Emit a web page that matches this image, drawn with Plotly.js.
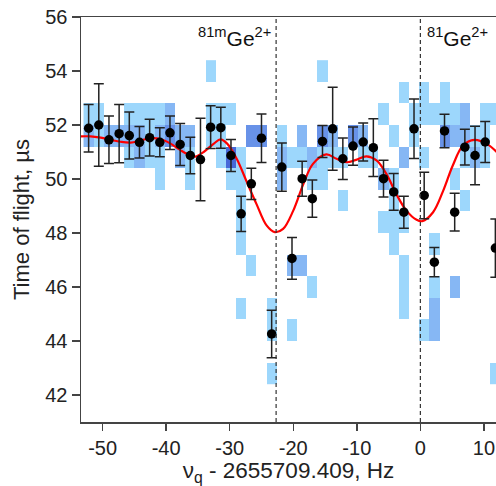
<!DOCTYPE html>
<html>
<head>
<meta charset="utf-8">
<script src="https://cdn.plot.ly/plotly-3.0.1.min.js"></script>
<style>
html,body{margin:0;padding:0;background:#fff;}
#chart{width:496px;height:486px;}
</style>
</head>
<body>
<div id="chart"></div>
<script>
// ---- data ----
const freq = [-52.2, -50.6, -49.0, -47.4, -45.8, -44.2, -42.6, -41.0, -39.4, -37.8,
              -36.2, -34.6, -33.0, -31.4, -29.8, -28.2, -26.6, -25.0, -23.4, -21.8,
              -20.2, -18.6, -17.0, -15.4, -13.8, -12.2, -10.6, -9.0, -7.4, -5.8,
              -4.2, -2.6, -1.0, 0.6, 2.2, 3.8, 5.4, 7.0, 8.6, 10.2, 11.8];
const tof = [51.88, 52.00, 51.45, 51.68, 51.61, 51.36, 51.53, 51.36, 51.71, 51.28,
             50.87, 50.72, 51.92, 51.90, 50.87, 48.71, 49.82, 51.51, 44.26, 50.44,
             47.06, 50.01, 49.27, 51.39, 51.86, 50.75, 51.22, 51.37, 51.16, 50.01,
             49.52, 48.77, 51.86, 49.39, 46.92, 51.78, 48.77, 51.18, 50.87, 51.37, 47.44];
const tofErr = [0.88, 1.53, 0.88, 1.08, 0.87, 0.58, 0.68, 0.54, 0.62, 0.78,
                0.68, 1.53, 0.79, 0.76, 0.59, 0.65, 0.58, 0.90, 0.88, 0.89,
                0.77, 0.65, 0.69, 0.59, 1.54, 0.77, 0.71, 0.70, 1.07, 0.68,
                0.68, 0.59, 1.10, 0.86, 0.54, 0.62, 0.70, 0.66, 1.08, 0.76, 1.08];

// fit curve
const fitX = [-53.4, -51.9, -50.3, -48.7, -47.2, -45.6, -44.0, -42.45, -40.9, -39.3,
              -37.7, -36.2, -35.4, -34.1, -32.5, -31.45, -30.4, -28.9, -27.4, -25.8,
              -24.2, -22.9, -21.6, -20.0, -18.4, -16.9, -14.8, -13.2, -11.6, -10.1,
              -8.5, -6.9, -5.35, -3.8, -2.2, -0.6, 0.3, 2.0, 3.6, 5.1,
              6.7, 8.5, 10.4, 12.0];
const fitY = [51.58, 51.58, 51.53, 51.45, 51.38, 51.35, 51.43, 51.51, 51.48, 51.31,
              51.06, 50.87, 50.83, 51.00, 51.31, 51.47, 51.31, 50.75, 49.94, 49.08,
              48.28, 48.03, 48.15, 48.83, 49.82, 50.56, 50.91, 50.75, 50.62, 50.71,
              50.84, 50.69, 50.19, 49.45, 48.83, 48.49, 48.44, 48.77, 49.57, 50.50,
              51.24, 51.45, 51.31, 51.00];

// 2D histogram of single events (bin centres and counts)
const binTof = [42.8, 43.6, 44.4, 45.2, 46.0, 46.8, 47.6, 48.4, 49.2, 50.0, 50.8, 51.6, 52.4, 53.2, 54.0];
const cellFreq = [
  -52.2,-52.2, -50.6,-50.6, -49.0, -47.4, -45.8,-45.8,-45.8, -44.2,-44.2,-44.2,
  -42.6,-42.6,-42.6, -41.0,-41.0,-41.0,-41.0, -39.4,-39.4, -37.8,-37.8, -36.2,-36.2,-36.2,
  -33.0,-33.0,-33.0, -31.4,-31.4,-31.4, -29.8,-29.8,-29.8,
  -28.2,-28.2,-28.2,-28.2,-28.2,-28.2, -26.6,-26.6, -25.0, -23.4,-23.4,-23.4,
  -21.8,-21.8,-21.8, -20.2,-20.2,-20.2, -18.6,-18.6,-18.6, -17.0,-17.0,-17.0,
  -15.4,-15.4,-15.4,-15.4, -13.8,-13.8, -12.2,-12.2, -10.6, -9.0,-9.0, -7.4,
  -5.8,-5.8,-5.8, -4.2,-4.2,-4.2,-4.2,-4.2, -2.6,-2.6,-2.6,-2.6,-2.6,-2.6,
  -1.0,-1.0, 0.6,0.6,0.6,0.6, 2.2,2.2,2.2,2.2,2.2, 3.8,3.8,3.8,
  5.4,5.4,5.4,5.4, 7.0,7.0,7.0,7.0, 8.6,8.6, 10.2,10.2,10.2, 11.8,11.8];
const cellTof = [
  52.4,51.6, 52.4,51.6, 51.6, 51.6, 52.4,51.6,50.8, 52.4,51.6,50.8,
  52.4,51.6,50.8, 52.4,51.6,50.8,50.0, 52.4,51.6, 51.6,50.8, 51.6,50.8,50.0,
  54.0,52.4,51.6, 52.4,51.6,50.8, 52.4,50.8,50.0,
  50.8,50.0,49.2,48.4,47.6,45.2, 51.6,46.8, 51.6, 45.2,44.4,42.8,
  51.6,50.8,50.0, 50.8,46.8,44.4, 51.6,50.8,46.8, 50.8,50.0,46.0,
  54.0,51.6,50.8,50.0, 51.6,50.8, 50.8,49.2, 51.6, 51.6,50.8, 50.8,
  52.4,50.0,48.4, 51.6,50.0,49.2,48.4,47.6, 53.2,50.8,48.4,46.8,46.0,45.2,
  52.4,51.6, 53.2,52.4,50.8,44.4, 52.4,47.6,46.0,45.2,44.4, 53.2,52.4,51.6,
  52.4,51.6,50.0,46.0, 52.4,51.6,50.8,49.2, 51.6,50.8, 52.4,51.6,50.8, 52.4,42.8];
const cellCount = [
  1,2, 1,1, 2, 2, 1,2,1, 1,2,2,
  1,1,1, 1,2,1,1, 2,3, 2,2, 2,1,1,
  1,1,1, 1,1,1, 1,4,1,
  1,1,1,1,1,1, 3,1, 3, 1,1,1,
  1,2,2, 1,2,1, 2,1,2, 2,1,1,
  1,3,1,1, 2,1, 1,1, 3, 2,1, 1,
  1,2,1, 1,1,1,1,1, 1,2,1,1,1,1,
  1,1, 1,1,1,1, 1,1,1,2,2, 1,1,3,
  1,2,1,2, 2,2,1,1, 1,2, 1,1,1, 1,1];

const xTicks = [-50, -40, -30, -20, -10, 0, 10];
const xTickText = ['-50', '-40', '-30', '-20', '-10', '0', '10'];
const yTicks = [42, 44, 46, 48, 50, 52, 54, 56];
const markerLines = [-22.7, 0];
const labels = ['<sup>81m</sup>Ge<sup>2+</sup>', '<sup>81</sup>Ge<sup>2+</sup>'];

// ---- build histogram matrix ----
const z = binTof.map(() => freq.map(() => null));
for (let k = 0; k < cellFreq.length; k++) {
  let ci = 0, ri = 0, best = 1e9;
  freq.forEach((f, i) => { const d = Math.abs(f - cellFreq[k]); if (d < best) { best = d; ci = i; } });
  best = 1e9;
  binTof.forEach((t, i) => { const d = Math.abs(t - cellTof[k]); if (d < best) { best = d; ri = i; } });
  z[ri][ci] = cellCount[k];
}

const c1 = '#9dd7fc', c2 = '#86b7f4', c3 = '#6892e8', c4 = '#4668d8';
const FONT = 'Liberation Sans, Arial, Helvetica, sans-serif';

const traces = [
  {
    type: 'heatmap', x: freq, y: binTof, z: z,
    zmin: 0.5, zmax: 4.5, showscale: false, hoverinfo: 'skip',
    colorscale: [[0, c1], [0.25, c1], [0.25, c2], [0.5, c2], [0.5, c3], [0.75, c3], [0.75, c4], [1, c4]]
  },
  {
    type: 'scatter', mode: 'lines', x: fitX, y: fitY,
    line: { color: '#ff0000', width: 2.2, shape: 'spline', smoothing: 1 }, hoverinfo: 'skip'
  },
  {
    type: 'scatter', mode: 'markers', x: freq, y: tof,
    marker: { color: '#000', size: 9.5 },
    error_y: { type: 'data', array: tofErr, visible: true, color: '#222', thickness: 1.5, width: 5 }
  }
];

const shapes = markerLines.map(v => ({
  type: 'line', xref: 'x', yref: 'paper', x0: v, x1: v, y0: 0, y1: 1,
  line: { color: '#333', width: 1.2, dash: '4px,3px' }
}));

const layout = {
  width: 496, height: 486,
  margin: { l: 81, r: 0, t: 17, b: 64, pad: 0 },
  paper_bgcolor: '#fff', plot_bgcolor: '#fff',
  showlegend: false,
  font: { family: FONT, color: '#222' },
  xaxis: {
    range: [-53.4, 11.9], tickvals: xTicks, ticktext: xTickText,
    ticks: 'outside', ticklen: 7, tickwidth: 1.5, tickcolor: '#444',
    showline: true, linecolor: '#444', linewidth: 1.5, mirror: true,
    showgrid: false, zeroline: false,
    tickfont: { family: FONT, size: 20, color: '#222' },
    title: { text: 'ν<sub>q</sub> - 2655709.409, Hz', font: { family: FONT, size: 22.5, color: '#222' }, standoff: 7 }
  },
  yaxis: {
    range: [41, 56], tickvals: yTicks,
    ticks: 'outside', ticklen: 8, tickwidth: 1.5, tickcolor: '#444',
    showline: true, linecolor: '#444', linewidth: 1.5,
    showgrid: false, zeroline: false,
    tickfont: { family: FONT, size: 20, color: '#222' },
    title: { text: 'Time of flight, µs', font: { family: FONT, size: 22, color: '#222' }, standoff: 9 }
  },
  shapes: shapes,
  annotations: [
    { text: labels[0], x: markerLines[0], xanchor: 'right', xshift: -3, y: 55.25, yanchor: 'middle',
      showarrow: false, font: { family: FONT, size: 21, color: '#111' } },
    { text: labels[1], x: markerLines[1], xanchor: 'left', xshift: 5, y: 55.25, yanchor: 'middle',
      showarrow: false, font: { family: FONT, size: 21, color: '#111' } }
  ]
};

Plotly.newPlot('chart', traces, layout, { displayModeBar: false, staticPlot: true });
</script>
</body>
</html>
